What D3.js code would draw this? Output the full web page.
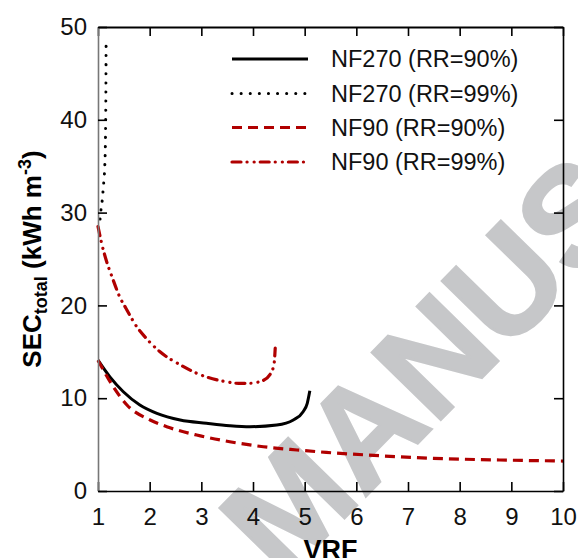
<!DOCTYPE html>
<html><head><meta charset="utf-8">
<script src="https://cdn.jsdelivr.net/npm/d3@7"></script>
<style>body{margin:0;background:#fff} svg{display:block}</style>
</head><body>
<svg id="c" width="578" height="558"></svg>
<script>
// ---- data ----
const xTicks = [1,2,3,4,5,6,7,8,9,10];
const yTicks = [0,10,20,30,40,50];
const seriesNames = ["NF270 (RR=90%)","NF270 (RR=99%)","NF90 (RR=90%)","NF90 (RR=99%)"];

const nf270rr90VRF = [1.0, 1.23, 1.49, 1.81, 2.14, 2.59, 3.10, 3.55, 3.94, 4.46, 4.78, 4.97, 5.05, 5.10];
const nf270rr90SEC = [14.1, 12.3, 10.7, 9.27, 8.37, 7.65, 7.30, 7.04, 6.93, 7.11, 7.65, 8.55, 9.45, 10.8];

const nf270rr99VRF = [1.04, 1.06, 1.083, 1.10, 1.116, 1.13, 1.145, 1.152, 1.157];
const nf270rr99SEC = [29.3, 30.4, 31.4, 32.5, 33.6, 34.8, 38.0, 42.0, 48.0];

const nf90rr90VRF = [1.0, 1.30, 1.56, 2.01, 2.33, 2.91, 3.55, 4.20, 4.85, 5.42, 6.20, 7.49, 8.78, 10.0];
const nf90rr90SEC = [14.1, 11.2, 9.27, 7.65, 6.93, 6.03, 5.31, 4.77, 4.42, 4.16, 3.88, 3.52, 3.34, 3.23];

const nf90rr99VRF = [1.0, 1.07, 1.18, 1.27, 1.43, 1.54, 1.75, 1.91, 2.20, 2.59, 3.04, 3.46, 3.72, 3.91, 4.17, 4.35, 4.41, 4.43];
const nf90rr99SEC = [28.5, 26.7, 24.5, 23.1, 20.8, 19.7, 17.7, 16.6, 15.0, 13.6, 12.4, 11.8, 11.6, 11.6, 11.85, 12.75, 13.8, 15.4];

// ---- layout ----
const L = 98, R = 563, T = 27, B = 491;
const FONT = "'Liberation Sans', Arial, Helvetica, sans-serif";
const RED = "#b00000";

const svg = d3.select("#c");
const x = d3.scaleLinear().domain([1,10]).range([L,R]);
const y = d3.scaleLinear().domain([0,50]).range([B,T]);

// watermark (under everything)
svg.append("text")
  .attr("transform", "translate(282,582) rotate(-45.6)")
  .attr("font-family", FONT).attr("font-weight", "bold").attr("font-size", 140)
  .attr("fill", "#c6c7c9").attr("stroke", "#c6c7c9").attr("stroke-width", 2.5)
  .attr("stroke-linejoin", "miter")
  .text("MANUSCRIPT");

const series = [
  {name: seriesNames[0], vx: nf270rr90VRF, vy: nf270rr90SEC, color: "#000", width: 3, dash: null, cap: "butt"},
  {name: seriesNames[1], vx: nf270rr99VRF, vy: nf270rr99SEC, color: "#000", width: 3, dash: "0.1 9", cap: "round"},
  {name: seriesNames[2], vx: nf90rr90VRF, vy: nf90rr90SEC, color: RED, width: 3.2, dash: "10 6", cap: "butt"},
  {name: seriesNames[3], vx: nf90rr99VRF, vy: nf90rr99SEC, color: RED, width: 3.2, dash: "9 6 0.1 7 0.1 6", cap: "round"}
];

const line = d3.line().x(d => x(d[0])).y(d => y(d[1])).curve(d3.curveMonotoneX);

const plot = svg.append("g");
series.forEach(s => {
  const pts = s.vx.map((v,i) => [v, s.vy[i]]);
  plot.append("path").datum(pts)
    .attr("d", line)
    .attr("fill", "none")
    .attr("stroke", s.color)
    .attr("stroke-width", s.width)
    .attr("stroke-dasharray", s.dash)
    .attr("stroke-linecap", s.cap);
});

// axes: inward ticks on all four sides
const tickLen = 9;
const axB = svg.append("g").attr("transform", `translate(0,${B})`)
  .call(d3.axisBottom(x).tickValues(xTicks).tickSizeInner(-tickLen).tickSizeOuter(0).tickPadding(17).tickFormat(d3.format("d")));
const axT = svg.append("g").attr("transform", `translate(0,${T})`)
  .call(d3.axisTop(x).tickValues(xTicks).tickSizeInner(-tickLen).tickSizeOuter(0).tickFormat(""));
const axL = svg.append("g").attr("transform", `translate(${L},0)`)
  .call(d3.axisLeft(y).tickValues(yTicks).tickSizeInner(-tickLen).tickSizeOuter(0).tickPadding(11).tickFormat(d3.format("d")));
const axR = svg.append("g").attr("transform", `translate(${R},0)`)
  .call(d3.axisRight(y).tickValues(yTicks).tickSizeInner(-tickLen).tickSizeOuter(0).tickFormat(""));

[axB, axT, axL, axR].forEach(a => {
  a.select(".domain").attr("stroke", "#000").attr("stroke-width", 1.6);
  a.selectAll(".tick line").attr("stroke", "#000").attr("stroke-width", 1.6);
  a.selectAll(".tick text").attr("font-family", FONT).attr("font-size", 24).attr("fill", "#111");
});
axL.select(".domain").attr("stroke", "#777");
axT.select(".domain").attr("stroke-width", 2);

// axis titles
svg.append("text")
  .attr("x", (L+R)/2).attr("y", 559)
  .attr("text-anchor", "middle")
  .attr("font-family", FONT).attr("font-weight", "bold").attr("font-size", 27)
  .attr("fill", "#000")
  .text("VRF");

const yl = svg.append("text")
  .attr("transform", `translate(41,${(T+B)/2}) rotate(-90)`)
  .attr("text-anchor", "middle")
  .attr("font-family", FONT).attr("font-weight", "bold").attr("font-size", 26)
  .attr("fill", "#000");
yl.append("tspan").text("SEC");
yl.append("tspan").attr("font-size", 18).attr("dy", 6).text("total");
yl.append("tspan").attr("dy", -6).text(" (kWh m");
yl.append("tspan").attr("font-size", 18).attr("dy", -10).text("-3");
yl.append("tspan").attr("dy", 10).text(")");

// legend
const legY = [59, 93.5, 127.5, 162];
const leg = svg.append("g");
series.forEach((s,i) => {
  leg.append("line")
    .attr("x1", 232).attr("x2", 308).attr("y1", legY[i]).attr("y2", legY[i])
    .attr("stroke", s.color).attr("stroke-width", s.width)
    .attr("stroke-dasharray", s.dash).attr("stroke-linecap", s.cap);
  leg.append("text")
    .attr("x", 331).attr("y", legY[i]).attr("dy", "0.36em")
    .attr("font-family", FONT).attr("font-size", 23.5).attr("fill", "#111")
    .text(s.name);
});
</script>
</body></html>
